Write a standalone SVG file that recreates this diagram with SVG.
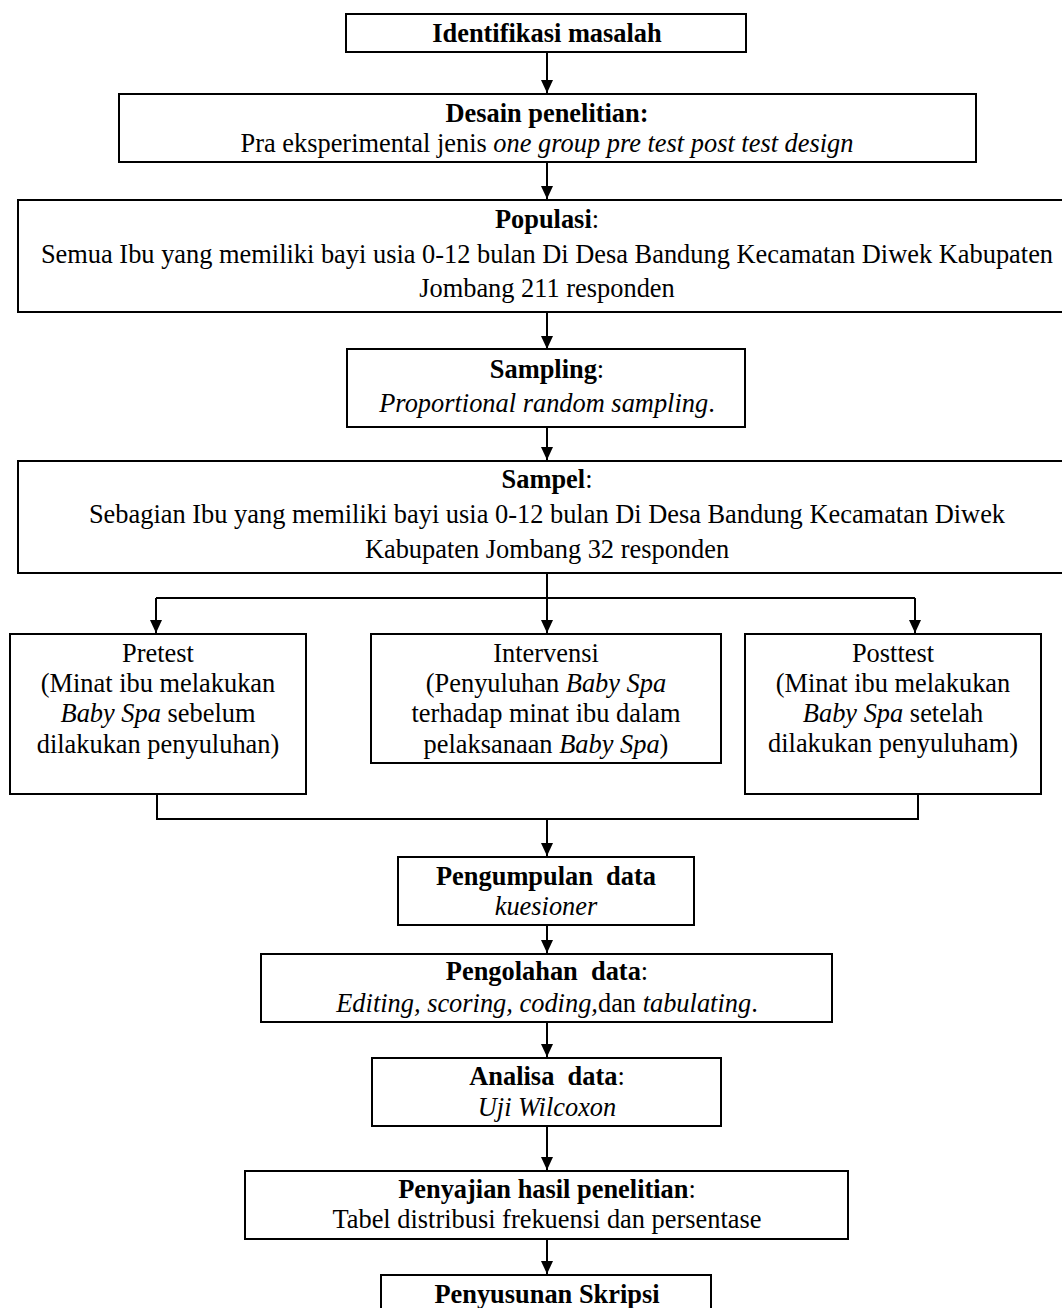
<svg xmlns="http://www.w3.org/2000/svg" width="1062" height="1308" viewBox="0 0 1062 1308">
<style>
rect.box{fill:#fff;stroke:#000;stroke-width:2}
text{font-family:"Liberation Serif","Times New Roman",serif;font-size:26.4px;fill:#000;text-anchor:middle;white-space:pre}
.b{font-weight:bold}
.i{font-style:italic}
.c{fill:none;stroke:#000;stroke-width:2}
</style>
<defs>
<marker id="ah" viewBox="0 0 13 12" refX="13" refY="6" markerUnits="userSpaceOnUse" markerWidth="13" markerHeight="12" orient="auto">
<path d="M0,0 L13,6 L0,12 z" fill="#000"/>
</marker>
</defs>
<rect width="1062" height="1308" fill="#fff"/>
<g id="connectors">
<line class="c" x1="547" y1="52" x2="547" y2="93" marker-end="url(#ah)"/>
<line class="c" x1="547" y1="162" x2="547" y2="199" marker-end="url(#ah)"/>
<line class="c" x1="547" y1="312" x2="547" y2="349" marker-end="url(#ah)"/>
<line class="c" x1="547" y1="427" x2="547" y2="460" marker-end="url(#ah)"/>
<line class="c" x1="547" y1="573" x2="547" y2="598"/>
<line class="c" x1="156" y1="598" x2="915" y2="598"/>
<line class="c" x1="156" y1="598" x2="156" y2="633" marker-end="url(#ah)"/>
<line class="c" x1="547" y1="598" x2="547" y2="633" marker-end="url(#ah)"/>
<line class="c" x1="915" y1="598" x2="915" y2="633" marker-end="url(#ah)"/>
<polyline class="c" points="157,794 157,819 918,819 918,794"/>
<line class="c" x1="547" y1="819" x2="547" y2="856" marker-end="url(#ah)"/>
<line class="c" x1="547" y1="925" x2="547" y2="953" marker-end="url(#ah)"/>
<line class="c" x1="547" y1="1022" x2="547" y2="1057" marker-end="url(#ah)"/>
<line class="c" x1="547" y1="1126" x2="547" y2="1170" marker-end="url(#ah)"/>
<line class="c" x1="547" y1="1239" x2="547" y2="1274" marker-end="url(#ah)"/>
</g>
<g id="n1">
<rect class="box" x="346" y="14" width="400" height="38"/>
<text x="547" y="42" class="b">Identifikasi masalah</text>
</g>
<g id="n2">
<rect class="box" x="119" y="94" width="857" height="68"/>
<text x="547" y="122" class="b">Desain penelitian:</text>
<text x="547" y="152">Pra eksperimental jenis <tspan class="i">one group pre test post test design</tspan></text>
</g>
<g id="n3">
<rect class="box" x="18" y="200" width="1058" height="112"/>
<text x="547" y="228"><tspan class="b">Populasi</tspan>:</text>
<text x="547" y="263">Semua Ibu yang memiliki bayi usia 0-12 bulan Di Desa Bandung Kecamatan Diwek Kabupaten</text>
<text x="547" y="297">Jombang 211 responden</text>
</g>
<g id="n4">
<rect class="box" x="347" y="349" width="398" height="78"/>
<text x="547" y="378"><tspan class="b">Sampling</tspan>:</text>
<text x="547" y="412"><tspan class="i">Proportional random sampling</tspan>.</text>
</g>
<g id="n5">
<rect class="box" x="18" y="461" width="1058" height="112"/>
<text x="547" y="488"><tspan class="b">Sampel</tspan>:</text>
<text x="547" y="523">Sebagian Ibu yang memiliki bayi usia 0-12 bulan Di Desa Bandung Kecamatan Diwek</text>
<text x="547" y="558">Kabupaten Jombang 32 responden</text>
</g>
<g id="n6">
<rect class="box" x="10" y="634" width="296" height="160"/>
<text x="158" y="662">Pretest</text>
<text x="158" y="692">(Minat ibu melakukan</text>
<text x="158" y="722"><tspan class="i">Baby Spa</tspan> sebelum</text>
<text x="158" y="753">dilakukan penyuluhan)</text>
</g>
<g id="n7">
<rect class="box" x="371" y="634" width="350" height="129"/>
<text x="546" y="662">Intervensi</text>
<text x="546" y="692">(Penyuluhan <tspan class="i">Baby Spa</tspan></text>
<text x="546" y="722">terhadap minat ibu dalam</text>
<text x="546" y="753">pelaksanaan <tspan class="i">Baby Spa</tspan>)</text>
</g>
<g id="n8">
<rect class="box" x="745" y="634" width="296" height="160"/>
<text x="893" y="662">Posttest</text>
<text x="893" y="692">(Minat ibu melakukan</text>
<text x="893" y="722"><tspan class="i">Baby Spa</tspan> setelah</text>
<text x="893" y="752">dilakukan penyuluham)</text>
</g>
<g id="n9">
<rect class="box" x="398" y="857" width="296" height="68"/>
<text x="546" y="885" class="b">Pengumpulan  data</text>
<text x="546" y="915" class="i">kuesioner</text>
</g>
<g id="n10">
<rect class="box" x="261" y="954" width="571" height="68"/>
<text x="547" y="980"><tspan class="b">Pengolahan  data</tspan>:</text>
<text x="547" y="1012"><tspan class="i">Editing, scoring, coding,</tspan>dan <tspan class="i">tabulating</tspan>.</text>
</g>
<g id="n11">
<rect class="box" x="372" y="1058" width="349" height="68"/>
<text x="547" y="1085"><tspan class="b">Analisa  data</tspan>:</text>
<text x="547" y="1116" class="i">Uji Wilcoxon</text>
</g>
<g id="n12">
<rect class="box" x="245" y="1171" width="603" height="68"/>
<text x="547" y="1198"><tspan class="b">Penyajian hasil penelitian</tspan>:</text>
<text x="547" y="1228">Tabel distribusi frekuensi dan persentase</text>
</g>
<g id="n13">
<rect class="box" x="381" y="1275" width="330" height="50"/>
<text x="547" y="1303" class="b">Penyusunan Skripsi</text>
</g>
</svg>
